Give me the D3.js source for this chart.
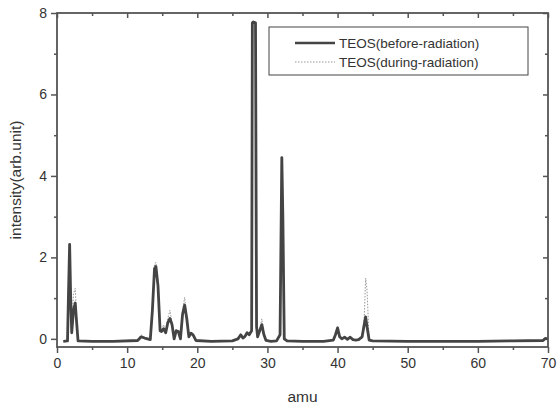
<!DOCTYPE html>
<html>
<head>
<meta charset="utf-8">
<script src="https://cdn.jsdelivr.net/npm/d3@7"></script>
<style>
  body { margin: 0; background: #fff; }
  text { font-family: "Liberation Sans", Arial, sans-serif; fill: #333; }
</style>
</head>
<body>
<script>
// mass axis (amu) sampled where the trace changes
var amu = [0.9, 1.5, 1.65, 1.8, 1.95, 2.1, 2.35, 2.6, 2.8, 3.0, 5, 8, 11.5, 12.0, 12.5, 13.3, 13.6, 13.9, 14.1, 14.4,
  14.7, 14.9, 15.2, 15.5, 15.8, 16.1, 16.4, 16.7, 17.0, 17.3, 17.6, 17.9, 18.2, 18.5, 18.8, 19.1, 19.4, 19.8, 22, 25,
  25.8, 26.2, 26.5, 26.8, 27.1, 27.4, 27.75, 27.85, 28.0, 28.3, 28.45, 28.6, 28.9, 29.2, 29.5, 29.8, 30.5, 31.3, 31.8, 32.05,
  32.2, 32.4, 32.8, 35, 38, 39.4, 39.7, 40.0, 40.3, 40.6, 41.0, 41.4, 41.8, 42.2, 42.6, 43.0, 43.5, 43.8, 44.0, 44.2,
  44.5, 45, 50, 55, 60, 65, 69.3, 69.6, 70];

var before = [-0.06, -0.05, 1.2, 2.32, 1.0, 0.15, 0.7, 0.88, 0.4, -0.05, -0.06, -0.06, -0.04, 0.05, 0.02, -0.02, 0.7, 1.72, 1.78, 1.3,
  0.2, 0.18, 0.25, 0.15, 0.4, 0.5, 0.35, 0.0, 0.2, 0.18, 0.0, 0.6, 0.83, 0.5, 0.05, 0.14, 0.1, -0.04, -0.06, -0.05,
  0.0, 0.1, 0.02, 0.06, 0.15, 0.1, 0.2, 7.76, 7.78, 7.76, 0.3, 0.05, 0.2, 0.35, 0.1, -0.04, -0.06, -0.05, 0.1, 4.45,
  3.0, 0.0, -0.05, -0.06, -0.06, -0.03, 0.1, 0.27, 0.05, 0.0, 0.04, -0.01, 0.04, -0.02, -0.03, -0.02, 0.05, 0.35, 0.54, 0.3,
  -0.03, -0.05, -0.06, -0.06, -0.06, -0.05, -0.04, 0.01, 0.0];

var during = [-0.06, -0.05, 1.1, 2.2, 1.0, 0.2, 1.1, 1.24, 0.5, -0.05, -0.06, -0.06, -0.04, 0.1, 0.03, -0.02, 0.8, 1.82, 1.88, 1.35,
  0.22, 0.2, 0.35, 0.18, 0.5, 0.7, 0.4, 0.02, 0.22, 0.2, 0.02, 0.7, 1.02, 0.55, 0.06, 0.15, 0.1, -0.04, -0.06, -0.05,
  0.0, 0.12, 0.03, 0.07, 0.16, 0.12, 0.22, 7.76, 7.78, 7.76, 0.35, 0.06, 0.25, 0.49, 0.12, -0.04, -0.06, -0.05, 0.1, 4.45,
  3.0, 0.0, -0.05, -0.06, -0.06, -0.03, 0.12, 0.3, 0.06, 0.0, 0.04, -0.01, 0.04, -0.02, -0.03, -0.02, 0.06, 0.5, 1.49, 1.2,
  -0.03, -0.05, -0.06, -0.06, -0.06, -0.05, -0.04, 0.01, 0.0];

var xTicks = [0, 10, 20, 30, 40, 50, 60, 70];
var yTicks = [0, 2, 4, 6, 8];
var seriesNames = ["TEOS(before-radiation)", "TEOS(during-radiation)"];

var svgWidth = 558, svgHeight = 407;
var margin = { top: 13, right: 10, bottom: 60, left: 57 };
var chartWidth = svgWidth - margin.left - margin.right;
var chartHeight = svgHeight - margin.top - margin.bottom;

var svg = d3.select("body").append("svg")
  .attr("width", svgWidth)
  .attr("height", svgHeight);

var chartGroup = svg.append("g")
  .attr("transform", `translate(${margin.left}, ${margin.top})`);

var x = d3.scaleLinear().domain([0, 70]).range([0, chartWidth]);
var y = d3.scaleLinear().domain([-0.2, 8]).range([chartHeight, 0]);

var minorX = d3.range(5, 70, 10);
var minorY = [1, 3, 5, 7];

function styleAxis(g) {
  g.select(".domain").remove();
  g.selectAll("line").attr("stroke", "#555").attr("stroke-width", 1.5);
  g.selectAll("text").attr("font-size", 14).attr("fill", "#333");
}

// bottom axis
chartGroup.append("g")
  .attr("transform", "translate(0," + chartHeight + ")")
  .call(d3.axisBottom(x).tickValues(xTicks).tickFormat(d3.format("d")).tickSize(6).tickPadding(5))
  .call(styleAxis);
chartGroup.append("g")
  .attr("transform", "translate(0," + chartHeight + ")")
  .call(d3.axisBottom(x).tickValues(minorX).tickFormat("").tickSize(3))
  .call(styleAxis);

// top axis (inward ticks)
chartGroup.append("g")
  .call(d3.axisBottom(x).tickValues(xTicks).tickFormat("").tickSize(5))
  .call(styleAxis);
chartGroup.append("g")
  .call(d3.axisBottom(x).tickValues(minorX).tickFormat("").tickSize(3))
  .call(styleAxis);

// left axis
chartGroup.append("g")
  .call(d3.axisLeft(y).tickValues(yTicks).tickSize(6).tickPadding(4))
  .call(styleAxis);
chartGroup.append("g")
  .call(d3.axisLeft(y).tickValues(minorY).tickFormat("").tickSize(3))
  .call(styleAxis);

// right axis (inward ticks)
chartGroup.append("g")
  .attr("transform", "translate(" + chartWidth + ",0)")
  .call(d3.axisLeft(y).tickValues(yTicks).tickFormat("").tickSize(5))
  .call(styleAxis);
chartGroup.append("g")
  .attr("transform", "translate(" + chartWidth + ",0)")
  .call(d3.axisLeft(y).tickValues(minorY).tickFormat("").tickSize(3))
  .call(styleAxis);

// traces
var trace = d3.line().x(function (d, i) { return x(amu[i]); }).y(function (d) { return y(d); });

chartGroup.append("path")
  .datum(during)
  .attr("d", trace)
  .attr("fill", "none")
  .attr("stroke", "#999")
  .attr("stroke-width", 1)
  .attr("stroke-dasharray", "1.5,1.5");

chartGroup.append("path")
  .datum(before)
  .attr("d", trace)
  .attr("fill", "none")
  .attr("stroke", "#444")
  .attr("stroke-width", 2.8)
  .attr("stroke-linejoin", "round");

// frame
chartGroup.append("rect")
  .attr("width", chartWidth)
  .attr("height", chartHeight)
  .attr("fill", "none")
  .attr("stroke", "#555")
  .attr("stroke-width", 1.8);

// legend
var legend = chartGroup.append("g").attr("transform", "translate(212,14)");
legend.append("rect")
  .attr("width", 259).attr("height", 48)
  .attr("fill", "#fff").attr("stroke", "#444").attr("stroke-width", 1);
legend.append("line")
  .attr("x1", 26).attr("x2", 66).attr("y1", 16).attr("y2", 16)
  .attr("stroke", "#444").attr("stroke-width", 2.5);
legend.append("line")
  .attr("x1", 26).attr("x2", 66).attr("y1", 35).attr("y2", 35)
  .attr("stroke", "#999").attr("stroke-width", 1).attr("stroke-dasharray", "1.5,1.5");
legend.selectAll("text.lg")
  .data(seriesNames)
  .enter()
  .append("text")
  .attr("class", "lg")
  .attr("x", 70)
  .attr("y", function (d, i) { return 21 + i * 19; })
  .attr("font-size", 13.5)
  .text(function (d) { return d; });

// axis titles
chartGroup.append("text")
  .attr("transform", "rotate(-90)")
  .attr("x", -chartHeight / 2)
  .attr("y", -margin.left + 21)
  .style("text-anchor", "middle")
  .attr("font-size", 15.5)
  .text("intensity(arb.unit)");

chartGroup.append("text")
  .attr("x", chartWidth / 2)
  .attr("y", chartHeight + 55)
  .style("text-anchor", "middle")
  .attr("font-size", 15.5)
  .text("amu");
</script>
</body>
</html>
